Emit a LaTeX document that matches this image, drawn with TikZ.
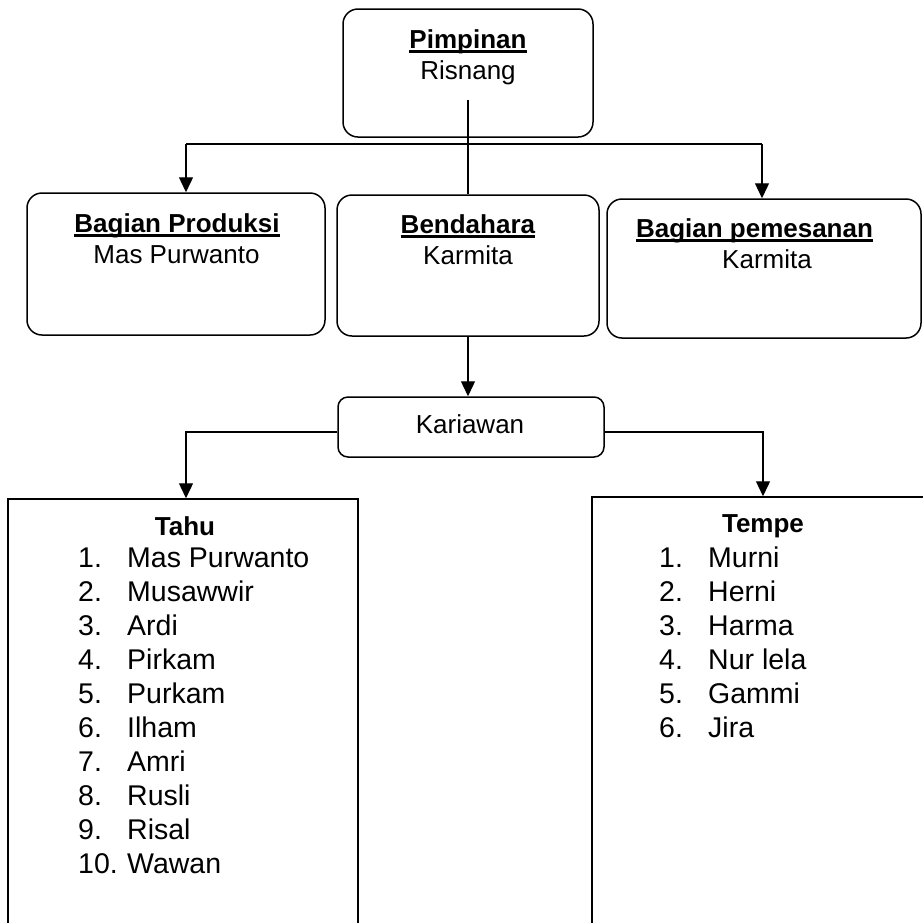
\documentclass[tikz,border=0pt]{standalone}
\usepackage{fontspec}
\setmainfont{Liberation Sans}
\usetikzlibrary{arrows.meta}
% heading text with a word-processor style underline
\newcommand\ulword[1]{\setbox0\hbox{#1}\rlap{\rule[-0.2em]{\wd0}{0.11em}}\box0}
\begin{document}
\begin{tikzpicture}[x=1pt,y=-1pt,
  unitbox/.style={draw, line width=1.5pt, rounded corners=15pt, inner sep=0pt},
  listbox/.style={draw, line width=1.5pt, inner sep=0pt},
  head/.style={anchor=base, inner sep=0pt, font=\fontsize{26}{30}\selectfont},
  itemtext/.style={anchor=base west, inner sep=0pt, font=\fontsize{28.5}{34}\selectfont},
  link/.style={line width=1.3pt},
  arr/.style={link, -{Triangle[length=15pt,width=14pt]}}]
\fill[white] (0,0) rectangle (923,922);
\useasboundingbox (0,0) rectangle (923,922);

% boxes
\node[unitbox, minimum width=250pt, minimum height=128pt] (pimp) at (468,73) {};
\node[unitbox, minimum width=298pt, minimum height=142pt] (prod) at (176,264) {};
\node[unitbox, minimum width=262pt, minimum height=141pt] (bend) at (468,265.5) {};
\node[unitbox, minimum width=314pt, minimum height=139pt] (pem) at (764,268.5) {};
\node[unitbox, rounded corners=10pt, minimum width=266pt, minimum height=60pt] (kar) at (471,427) {};
\node[listbox, minimum width=350pt, minimum height=441pt] (tahu) at (183,719.5) {};
\node[listbox, minimum width=350pt, minimum height=443pt] (tempe) at (767,718.5) {};

% box texts
\node[head] (pimp-t) at (468,48) {\ulword{\textbf{Pimpinan}}};
\node[head] (pimp-n) at (468,79) {Risnang};
\node[head] (prod-t) at (177,232) {\ulword{\textbf{Bagian Produksi}}};
\node[head] (prod-n) at (176.5,263) {Mas Purwanto};
\node[head] (bend-t) at (468,233) {\ulword{\textbf{Bendahara}}};
\node[head] (bend-n) at (468,264) {Karmita};
\node[head] (pem-t) at (754.5,237) {\ulword{\textbf{Bagian pemesanan}}};
\node[head] (pem-n) at (767,268) {Karmita};
\node[head] (kar-t) at (470,433) {Kariawan};
\node[head] (tahu-t) at (185,535) {\textbf{Tahu}};
\node[head] (tempe-t) at (763,532) {\textbf{Tempe}};

% member lists
\foreach \name [count=\i] in {Mas Purwanto, Musawwir, Ardi, Pirkam, Purkam,
    Ilham, Amri, Rusli, Risal, Wawan} {
  \node[itemtext] (tahu-num\i) at (78,{567+34*(\i-1)}) {\i.};
  \node[itemtext] (tahu-name\i) at (127,{567+34*(\i-1)}) {\name};
}
\foreach \name [count=\i] in {Murni, Herni, Harma, Nur lela, Gammi, Jira} {
  \node[itemtext] (tempe-num\i) at (659,{567+34*(\i-1)}) {\i.};
  \node[itemtext] (tempe-name\i) at (708,{567+34*(\i-1)}) {\name};
}

% connectors
\coordinate (stem) at (468,100);
\coordinate (busL) at (186,144);
\coordinate (busR) at (762,144);
\coordinate (dropL) at (186,432);
\coordinate (dropR) at (763,432);
\draw[link] (stem) -- (bend.north);
\draw[link] (busL) -- (busR);
\draw[arr] (busL) -- (busL |- prod.north);
\draw[arr] (busR) -- (busR |- pem.north);
\draw[arr] (bend.south) -- (bend.south |- kar.north);
\draw[arr] (kar.west |- dropL) -- (dropL) -- (dropL |- tahu.north);
\draw[arr] (kar.east |- dropR) -- (dropR) -- (dropR |- tempe.north);
\end{tikzpicture}
\end{document}
